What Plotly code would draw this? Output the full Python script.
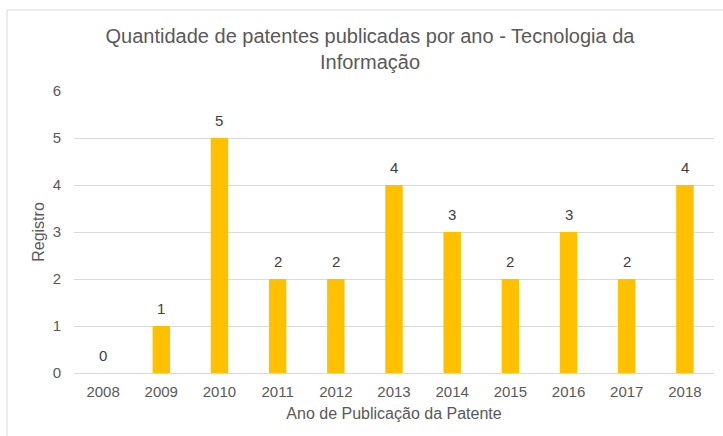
import plotly.graph_objects as go

years = ["2008", "2009", "2010", "2011", "2012", "2013", "2014", "2015", "2016", "2017", "2018"]
counts = [0, 1, 5, 2, 2, 4, 3, 2, 3, 2, 4]
y_ticks = [0, 1, 2, 3, 4, 5, 6]

W, H = 723, 436
L, R, T, B = 74, 9, 91, 63
pw, ph = W - L - R, H - T - B

font = "Liberation Sans, Arial, sans-serif"
txt = "#595959"

fig = go.Figure(go.Bar(
    x=years, y=counts,
    marker=dict(color="#FFC000", line=dict(width=0)),
    width=0.3,
))

annotations = [
    dict(x=i, y=c, xref="x", yref="y", text=str(c), showarrow=False,
         yanchor="middle", yshift=18,
         font=dict(family=font, size=15, color="#404040"))
    for i, c in enumerate(counts)
]

fig.update_layout(
    width=W, height=H,
    margin=dict(l=L, r=R, t=T, b=B),
    paper_bgcolor="white", plot_bgcolor="white",
    showlegend=False,
    title=dict(
        text="Quantidade de patentes publicadas por ano - Tecnologia da<br>Informação",
        x=(370 - L) / pw, xref="paper", xanchor="center",
        y=1 - 43 / H, yref="container", yanchor="top",
        font=dict(family=font, size=20, color=txt),
    ),
    annotations=annotations,
    xaxis=dict(
        type="category", categoryorder="array", categoryarray=years,
        range=[-0.5, len(years) - 0.5],
        showgrid=False, showline=False, zeroline=False, ticks="",
        ticklabelstandoff=8,
        tickfont=dict(family=font, size=15, color=txt),
        title=dict(text="Ano de Publicação da Patente", standoff=8,
                   font=dict(family=font, size=16, color=txt)),
    ),
    yaxis=dict(
        range=[0, 6], tickvals=y_ticks,
        showgrid=True, gridcolor="#D9D9D9", gridwidth=1,
        zeroline=True, zerolinecolor="#D9D9D9", zerolinewidth=1,
        showline=False, ticks="", ticklabelstandoff=12,
        tickfont=dict(family=font, size=15, color=txt),
        title=dict(text="Registro", standoff=4,
                   font=dict(family=font, size=16, color=txt)),
    ),
    shapes=[
        dict(type="rect", xref="paper", yref="paper",
             x0=(7 - L) / pw, x1=(730 - L) / pw,
             y0=1 - (450 - T) / ph, y1=1 + (T - 10) / ph,
             line=dict(color="#D9D9D9", width=1), fillcolor="rgba(0,0,0,0)",
             layer="below"),
    ],
)

fig.write_html("out.html", config={"displayModeBar": False},
               post_script="document.body.style.margin='0';document.body.style.padding='0';")
